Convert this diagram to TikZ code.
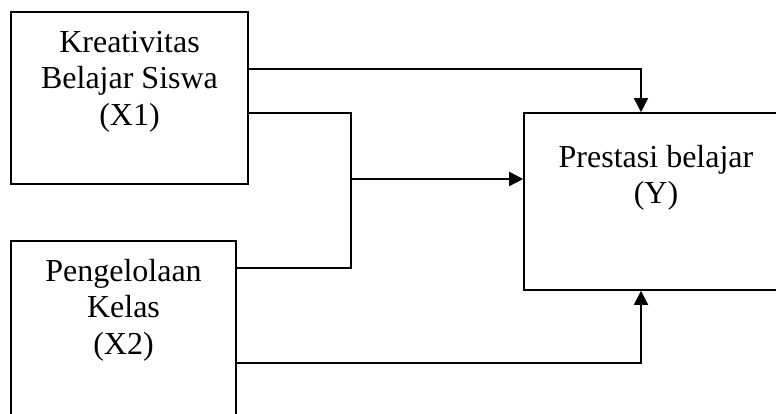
\documentclass[tikz,border=0pt]{standalone}
\usepackage{fontspec}
\setmainfont{Liberation Serif}
\usetikzlibrary{calc,arrows.meta}
\tikzset{tight/.style={inner sep=2pt},
  varbox/.style={draw, rectangle, line width=1.2pt, inner sep=0pt},
  boxtext/.style={anchor=base, align=center, inner sep=0pt,
    font=\fontsize{24}{27.5}\selectfont},
  link/.style={line width=1.2pt},
  arr/.style={line width=1.2pt, -{Triangle[length=10.5pt,width=10.5pt]}}}

\begin{document}
\begin{tikzpicture}[style=tight, x=0.75pt, y=-0.75pt]
          \clip (0, 0) rectangle (776, 414);

          \node at (129.5, 98) [varbox, minimum width=177.75pt, minimum height=129pt,
            label={[boxtext, yshift=-85.75pt]north:{Kreativitas\\Belajar Siswa\\(X1)}}] (x1) {};

          \node at (123.5, 350) [varbox, minimum width=168.75pt, minimum height=163.5pt,
            label={[boxtext, yshift=-85.75pt]north:{Pengelolaan\\Kelas\\(X2)}}] (x2) {};

          \node at (656, 201.5) [varbox, minimum width=198pt, minimum height=132.75pt,
            label={[boxtext, yshift=-68.75pt]north:{Prestasi belajar\\(Y)}}] (y) {};

          \coordinate (jn) at (351, 179);

          \draw[arr] (x1.east |- 0, 69) -| (y.north -| 641, 0);
          \draw[link] (x1.east |- 0, 113) -| (jn) |- (x2.east |- 0, 268);
          \draw[arr] (jn) -- (jn -| y.west);
          \draw[arr] (x2.east |- 0, 363) -| (y.south -| 641, 0);
        \end{tikzpicture}
\end{document}
